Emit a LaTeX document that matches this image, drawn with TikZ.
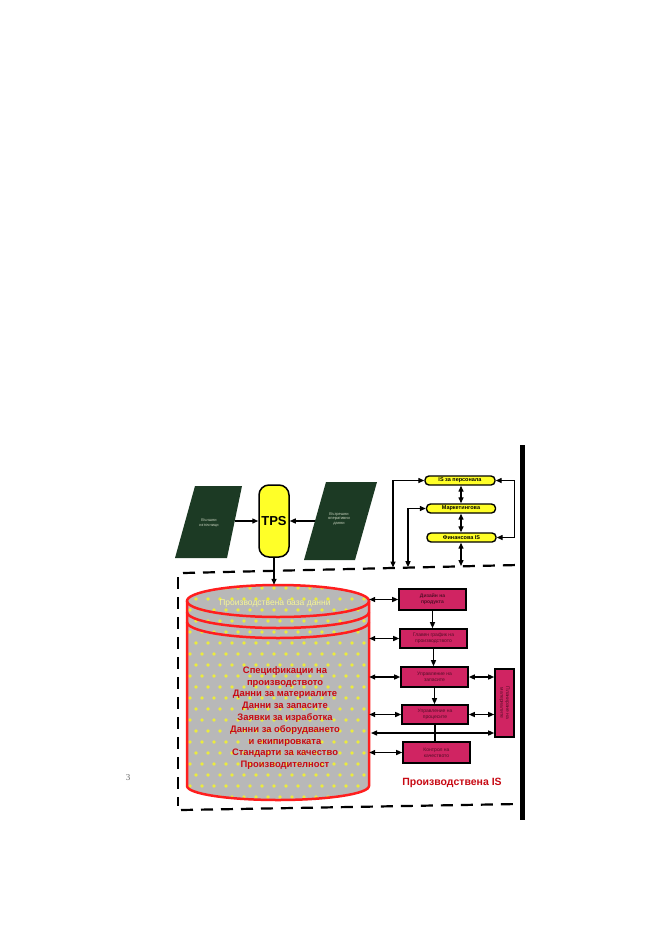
\documentclass[tikz,border=0pt]{standalone}
\usepackage{fontspec}
\setmainfont{Liberation Sans}
\newfontfamily\serifx{Liberation Serif}
\usetikzlibrary{arrows.meta,calc}
\definecolor{pgreen}{RGB}{28,58,36}
\definecolor{pyellow}{RGB}{255,255,40}
\definecolor{pmag}{RGB}{208,36,98}
\definecolor{pred}{RGB}{255,30,30}
\definecolor{ptext}{RGB}{200,10,20}
\definecolor{pgray}{RGB}{184,184,184}
\definecolor{pdot}{RGB}{235,235,60}
\definecolor{ppale}{RGB}{245,245,150}
\definecolor{pgtext}{RGB}{200,210,190}
\begin{document}
\begin{tikzpicture}[x=1pt,y=-1pt,
  >={Triangle[length=6pt,width=5pt]},
  conn/.style={line width=1.3pt, draw=black},
  ybox/.style={draw=black, line width=1.4pt, fill=pyellow, rounded corners=4pt, inner sep=0pt,
    font=\bfseries\fontsize{5.5}{6}\selectfont},
  mbox/.style={draw=black, line width=1.6pt, fill=pmag, inner sep=0pt, align=center,
    font=\fontsize{5}{5.8}\selectfont, text=black!60!pmag},
  frame/.style={line width=2.2pt, dash pattern=on 12pt off 8pt},
  partext/.style={text=pgtext, font=\fontsize{4}{4.8}\selectfont, align=center, inner sep=0pt},
]
\useasboundingbox (0,0) rectangle (655,926);
\fill[white] (0,0) rectangle (655,926);

% right black bar
\fill[black] (520,445) rectangle (525,820);

% parallelograms
\fill[pgreen] (195,486) -- (242,486) -- (227,558) -- (175,558) -- cycle;
\node[partext] (ext) at (209,523) {Външни\\източници};
\fill[pgreen] (326,482) -- (377,482) -- (355,560) -- (304,560) -- cycle;
\node[partext] (int) at (339,519) {Вътрешни\\оперативни\\данни};
\coordinate (extE) at (235,521);
\coordinate (intW) at (315,521);

% TPS
\node[draw=black, fill=pyellow, rounded corners=10pt, minimum width=30pt, minimum height=72pt,
  line width=1.5pt, inner sep=0pt, font=\bfseries\fontsize{13}{13}\selectfont] (tps) at (274,521) {TPS};
\draw[conn,->] (extE) -- (tps.west);
\draw[conn,->] (intW) -- (tps.east);

% yellow IS boxes
\node[ybox, minimum width=70pt, minimum height=9pt] (pers) at (460,480.5) {IS за персонала};
\node[ybox, minimum width=69pt, minimum height=9pt] (mark) at (461,508.5) {Маркетингова};
\node[ybox, minimum width=69pt, minimum height=9pt] (fin) at (461.5,537.5) {Финансова IS};

% dashed frame
\draw[frame] (183,573) -- (518,565);
\draw[frame] (178,577) -- (178,806);
\draw[frame] (181,810) -- (518,804);
\coordinate (d1) at (393,567.5);
\coordinate (d2) at (408,567.2);
\coordinate (d3) at (461,566);

\draw[conn,<->] (d1) |- (pers.west);
\draw[conn,<->] (d2) |- (mark.west);
\draw[conn,<->] (pers.east) -- ++(19,0) |- (fin.east);
\draw[conn,<->] (pers.south -| mark.north) -- (mark.north);
\draw[conn,<->] (mark.south) -- (mark.south |- fin.north);
\draw[conn,<->] (fin.south -| d3) -- (d3);

% cylinder
\node[minimum width=182pt, minimum height=215pt, inner sep=0pt] (cyl) at (278,692.5) {};
\begin{scope}
\clip (187,601) -- (187,786) arc[start angle=180,end angle=0,x radius=91,y radius=14]
  -- (369,601) arc[start angle=0,end angle=-180,x radius=91,y radius=16] -- cycle;
\fill[pgray] (180,580) rectangle (375,805);
\foreach \i in {0,...,16}{
  \foreach \j in {0,...,19}{
    \fill[pdot] ({190+\i*12+mod(\j,2)*6},{588+\j*11}) circle (1.9);
  }
}
\end{scope}
\draw[pred, line width=2.5pt] (187,601) -- (187,786) arc[start angle=180,end angle=0,x radius=91,y radius=14] -- (369,601);
\draw[pred, line width=2.5pt] (278,601) ellipse [x radius=91, y radius=16];
\draw[pred, line width=2.5pt] (187,612) arc[start angle=180,end angle=0,x radius=91,y radius=16];
\draw[pred, line width=2.5pt] (187,622) arc[start angle=180,end angle=0,x radius=91,y radius=16];
\node[text=ppale, font=\fontsize{8.5}{9}\selectfont] (dbt) at (275,603) {Производствена база данни};
\node[text=ptext, font=\bfseries\fontsize{9.4}{11.8}\selectfont, align=center] (dbtext) at (285,718)
  {Спецификации на\\производството\\Данни за материалите\\Данни за запасите\\Заявки за изработка\\Данни за оборудването\\и екипировката\\Стандарти за качество\\Производителност};

\draw[conn,->] (tps.south) -- (tps.south |- cyl.north);

% magenta boxes
\node[mbox, minimum width=67pt, minimum height=21pt] (b1) at (432.5,599.5) {\bfseries Дизайн на\\\bfseries продукта};
\node[mbox, minimum width=67pt, minimum height=19pt] (b2) at (433.5,638.5) {Главен график на\\производството};
\node[mbox, minimum width=67pt, minimum height=20pt] (b3) at (434.5,677) {Управление на\\запасите};
\node[mbox, minimum width=66pt, minimum height=19pt] (b4) at (435,714.5) {Управление на\\процесите};
\node[mbox, minimum width=67pt, minimum height=21pt] (b5) at (436.5,752.5) {Контрол на\\качеството};
\node[mbox, minimum width=19pt, minimum height=68pt] (b6) at (504.5,703) {};
\node[rotate=-90, text=black!60!pmag, font=\fontsize{5}{5.8}\selectfont, align=center] (b6t) at (b6.center) {Планиране на\\материалите};

\draw[conn,<->] (cyl.east |- b1.west) -- (b1.west);
\draw[conn,<->] (cyl.east |- b2.west) -- (b2.west);
\draw[conn,<->] (cyl.east |- b3.west) -- (b3.west);
\draw[conn,<->] (cyl.east |- b4.west) -- (b4.west);
\draw[conn,<->] (cyl.east |- b5.west) -- (b5.west);
\coordinate (l6) at (371,733);
\draw[conn,<->] (l6) -- (l6 -| b6.west);
\draw[conn,<->] (b3.east) -- (b3.east -| b6.west);
\draw[conn,<->] (b4.east) -- (b4.east -| b6.west);
\draw[conn,->] (b1.south) -- (b1.south |- b2.north);
\draw[conn,->] (b2.south) -- (b2.south |- b3.north);
\draw[conn,->] (b3.south) -- (b3.south |- b4.north);
\draw[conn] (b4.south) -- (b4.south |- b5.north);

\node[text=ptext, font=\bfseries\fontsize{10.5}{12}\selectfont] (mis) at (452,783) {Производствена IS};
\node[text=black!60, font=\serifx\fontsize{9}{10}\selectfont] (pg) at (128,778) {3};
\end{tikzpicture}
\end{document}
